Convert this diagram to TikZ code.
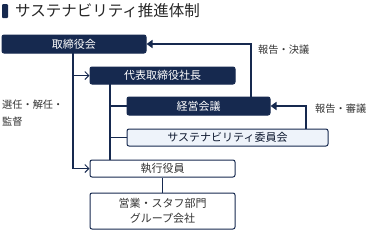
\documentclass[tikz,border=0pt]{standalone}
\usepackage{fontspec}
\setmainfont{Noto Sans CJK JP}
\usetikzlibrary{arrows.meta}
\definecolor{navy}{HTML}{16294F}
\definecolor{pale}{HTML}{EEF3FA}
\tikzset{
  box/.style={draw=navy, line width=1pt, rounded corners=2pt, inner sep=0pt, font=\fontsize{11}{12}\selectfont},
  darkbox/.style={box, fill=navy, text=white},
  lightbox/.style={box, fill=pale, text=navy!60!black},
  whitebox/.style={box, fill=white, text=black!80},
  link/.style={draw=navy, line width=1.1pt},
  openarrow/.style={link, -{Straight Barb[length=4pt,width=8pt,line width=1pt]}},
  report/.style={draw=navy, line width=2pt, -{Triangle[length=6pt,width=8pt]}},
  lbl/.style={font=\fontsize{10.2}{12}\selectfont, text=black!80, inner sep=0pt}
}
\begin{document}
\begin{tikzpicture}[x=1pt,y=-1pt]
\useasboundingbox (0,0) rectangle (370,231);
% title
\fill[navy, rounded corners=1pt] (2,4) rectangle (8,18);
\node[anchor=west, inner sep=0pt, font=\fontsize{15.5}{16}\selectfont, text=black!85] (title) at (15,11) {サステナビリティ推進体制};
% boxes
\node[darkbox, minimum width=144pt, minimum height=18pt] (bod) at (74,44) {取締役会};
\node[darkbox, minimum width=145pt, minimum height=17pt] (ceo) at (162.5,75.5) {代表取締役社長};
\node[darkbox, minimum width=143pt, minimum height=18pt] (mgmt) at (198.5,106) {経営会議};
\node[lightbox, minimum width=201pt, minimum height=17pt] (sus) at (227.5,137.5) {サステナビリティ委員会};
\node[whitebox, minimum width=145pt, minimum height=17pt] (exec) at (162.5,168.5) {執行役員};
\node[whitebox, minimum width=145pt, minimum height=36pt, align=center, font=\fontsize{11}{15}\selectfont] (dept) at (162.5,211) {営業・スタフ部門\\グループ会社};
% connectors from board
\coordinate (bodb) at (73,53);
\draw[openarrow] (bodb) |- (ceo.west);
\draw[openarrow] (bodb) |- (exec.west);
% from CEO
\coordinate (ceob) at (110,84);
\draw[link] (ceob) -- (ceob |- exec.north);
\draw[link] (ceob) |- (mgmt.west);
\draw[link] (ceob) |- (sus.west);
\draw[link] (exec.south) -- (dept.north);
% reports
\coordinate (mgmtt) at (251,97);
\draw[report] (mgmtt) |- (bod.east);
\coordinate (sust) at (306,129);
\draw[report] (sust) |- (mgmt.east);
% labels
\node[lbl, anchor=west] (l1) at (258,50) {報告・決議};
\node[lbl, anchor=west] (l2) at (315,109) {報告・審議};
\node[lbl, anchor=west] (l3) at (2,105) {選任・解任・};
\node[lbl, anchor=west] (l4) at (2,122) {監督};
\end{tikzpicture}
\end{document}
